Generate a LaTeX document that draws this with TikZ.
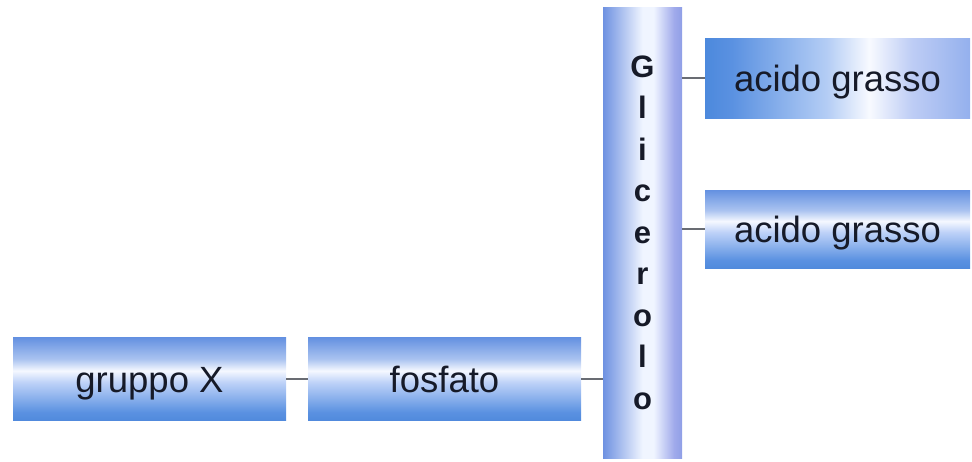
\documentclass[tikz,border=0pt]{standalone}
\usepackage{fontspec}
\setmainfont{Liberation Sans}
\definecolor{v0}{RGB}{10,90,160}
\definecolor{v1}{RGB}{20,100,180}
\definecolor{v2}{RGB}{55,120,208}
\definecolor{v3}{RGB}{90,145,225}
\definecolor{v4}{RGB}{190,210,248}
\definecolor{v5}{RGB}{245,248,255}
\definecolor{v6}{RGB}{170,195,240}
\definecolor{v7}{RGB}{100,145,225}
\definecolor{v8}{RGB}{78,132,218}
\definecolor{v9}{RGB}{40,110,195}
\definecolor{h0}{RGB}{10,100,195}
\definecolor{h1}{RGB}{30,110,205}
\definecolor{h2}{RGB}{90,145,225}
\definecolor{h3}{RGB}{180,205,245}
\definecolor{h4}{RGB}{248,250,255}
\definecolor{h5}{RGB}{190,205,245}
\definecolor{h6}{RGB}{110,150,230}
\definecolor{h7}{RGB}{60,125,215}
\definecolor{b0}{RGB}{25,105,195}
\definecolor{b1}{RGB}{60,125,210}
\definecolor{b2}{RGB}{110,145,225}
\definecolor{b3}{RGB}{240,245,255}
\definecolor{b4}{RGB}{160,170,235}
\definecolor{b5}{RGB}{100,130,220}
\definecolor{txt}{RGB}{22,26,40}
\definecolor{conn}{RGB}{105,108,115}
\pgfdeclareverticalshading{boxv}{100bp}{color(0bp)=(v0); color(5bp)=(v1); color(12bp)=(v2); color(30bp)=(v3); color(48bp)=(v4); color(55bp)=(v5); color(62bp)=(v6); color(75bp)=(v7); color(92bp)=(v8); color(97bp)=(v8); color(100bp)=(v9)}
\pgfdeclarehorizontalshading{boxh}{100bp}{color(0bp)=(h0); color(8bp)=(h1); color(30bp)=(h2); color(48bp)=(h3); color(56bp)=(h4); color(64bp)=(h5); color(85bp)=(h6); color(96bp)=(h7); color(100bp)=(h1)}
\pgfdeclarehorizontalshading{barh}{100bp}{color(0bp)=(b0); color(6bp)=(b1); color(25bp)=(b2); color(50bp)=(b3); color(57bp)=(b3); color(70bp)=(b4); color(88bp)=(b5); color(95bp)=(b1); color(100bp)=(b0)}
\begin{document}
\begin{tikzpicture}[x=1pt,y=-1pt,
  lbl/.style={font=\fontsize{36.5}{40}\selectfont, text=txt, inner sep=0pt, draw=none,
    text height=30pt, text depth=4pt},
  vbox/.style={lbl, shading=boxv},
  hbox/.style={lbl, shading=boxh},
  bar/.style={shading=barh, draw=none, inner sep=0pt, text=txt, align=center,
    font=\bfseries\fontsize{31}{41.5}\selectfont},
  conn/.style={draw=conn, line width=1.6pt}]
\useasboundingbox (0,0) rectangle (972,461);
\node[vbox, minimum width=273pt, minimum height=83pt] (gx) at (149.5,379) {gruppo X};
\node[vbox, minimum width=273pt, minimum height=83pt] (fos) at (444.5,379) {fosfato};
\node[bar, minimum width=79pt, minimum height=451pt] (gli) at (642.5,232.5) {G\\l\\i\\c\\e\\r\\o\\l\\o};
\node[hbox, minimum width=265pt, minimum height=80pt] (ag1) at (837.5,78) {acido grasso};
\node[vbox, minimum width=265pt, minimum height=78pt] (ag2) at (837.5,229) {acido grasso};
\draw[conn] (gx.east) -- (fos.west);
\draw[conn] (fos.east) -- (gli.west |- fos.east);
\draw[conn] (ag1.west) -- (gli.east |- ag1.west);
\draw[conn] (ag2.west) -- (gli.east |- ag2.west);
\end{tikzpicture}
\end{document}
